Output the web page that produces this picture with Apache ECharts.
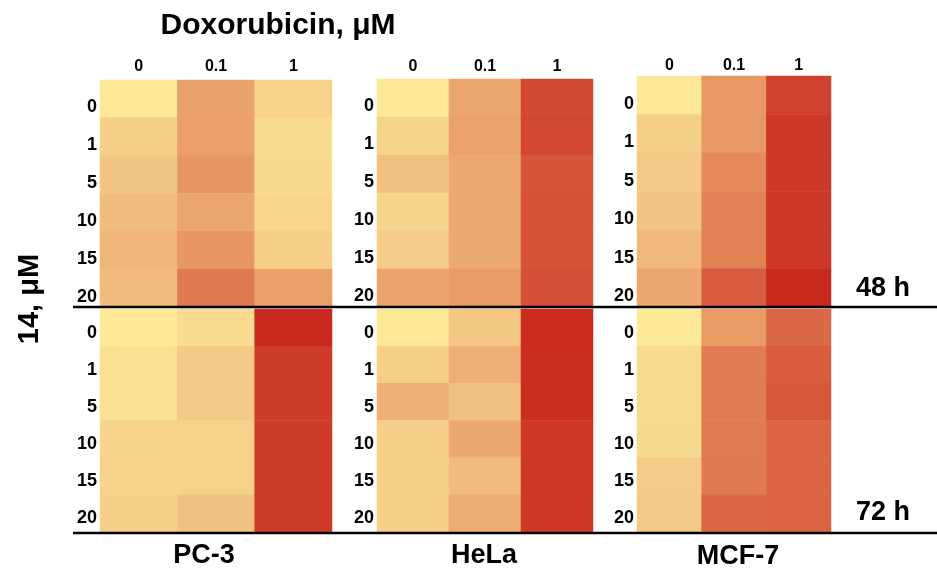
<!DOCTYPE html>
<html>
<head>
<meta charset="utf-8">
<script src="https://cdn.jsdelivr.net/npm/echarts@6/dist/echarts.min.js"></script>
<style>html,body{margin:0;padding:0;background:#fff}#c{width:937px;height:572px}</style>
</head>
<body>
<div id="c"></div>
<script>
var doxLabels = ['0', '0.1', '1'];
var cmpLabels = ['0', '1', '5', '10', '15', '20'];
var cellLines = ['PC-3', 'HeLa', 'MCF-7'];
var times = ['48 h', '72 h'];

// values per Doxorubicin column (0, 0.1, 1), rows = compound 14 conc (0..20)
var pc3_48 = [[2, 22, 27, 32, 36, 32], [48, 49, 55, 45, 54, 68], [19, 12, 13, 15, 22, 49]];
var hela_48 = [[2, 18, 30, 18, 23, 46], [45, 47, 43, 43, 43, 51], [87, 88, 83, 84, 84, 85]];
var mcf7_48 = [[2, 22, 25, 28, 34, 45], [53, 53, 61, 64, 64, 80], [90, 93, 93, 93, 93, 99]];
var pc3_72 = [[1, 8, 8, 18, 19, 21], [11, 24, 25, 20, 20, 30], [99, 92, 92, 92, 92, 92]];
var hela_72 = [[2, 22, 39, 21, 21, 21], [26, 40, 30, 44, 33, 42], [98, 97, 97, 94, 94, 93]];
var mcf7_72 = [[2, 12, 12, 13, 23, 25], [52, 67, 67, 67, 68, 76], [75, 80, 82, 77, 77, 77]];

var panels = [pc3_48, hela_48, mcf7_48, pc3_72, hela_72, mcf7_72];

var boxes = [
  {left: 100, top: 80, width: 232, height: 227, xm: 5, lh: 17},
  {left: 377, top: 79, width: 216, height: 228, xm: 4, lh: 17},
  {left: 637, top: 76, width: 194, height: 231, xm: 2, lh: 17},
  {left: 100, top: 309, width: 232, height: 223, xm: 4, lh: 10},
  {left: 377, top: 309, width: 216, height: 223, xm: 4, lh: 10},
  {left: 637, top: 309, width: 194, height: 223, xm: 4, lh: 10}
];

var font = 'Liberation Sans, Arial, sans-serif';
var grids = [], xAxes = [], yAxes = [], series = [];
panels.forEach(function (p, i) {
  var b = boxes[i];
  grids.push({left: b.left, top: b.top, width: b.width, height: b.height, containLabel: false});
  xAxes.push({
    type: 'category', gridIndex: i, data: doxLabels, position: 'top',
    axisLine: {show: false}, axisTick: {show: false}, splitLine: {show: false},
    axisLabel: {show: i < 3, margin: b.xm, fontFamily: font, fontWeight: 'bold', fontSize: 16, color: '#000'}
  });
  yAxes.push({
    type: 'category', gridIndex: i, data: cmpLabels, inverse: true,
    axisLine: {show: false}, axisTick: {show: false}, splitLine: {show: false},
    axisLabel: {margin: 3, fontFamily: font, fontWeight: 'bold', fontSize: 18, color: '#000', verticalAlign: 'top', lineHeight: b.lh}
  });
  var d = [];
  p.forEach(function (col, ci) {
    col.forEach(function (v, ri) { d.push([ci, ri, v]); });
  });
  series.push({type: 'heatmap', xAxisIndex: i, yAxisIndex: i, data: d, itemStyle: {borderWidth: 0}, emphasis: {disabled: true}});
});

function label(x, y, t, size, rot) {
  return {type: 'text', x: x, y: y, rotation: rot || 0, style: {text: t, fill: '#000', font: 'bold ' + size + 'px ' + font, textAlign: 'center', textVerticalAlign: 'middle'}};
}

var chart = echarts.init(document.getElementById('c'));
chart.setOption({
  animation: false,
  grid: grids,
  xAxis: xAxes,
  yAxis: yAxes,
  visualMap: {
    show: false, min: 0, max: 100, seriesIndex: [0, 1, 2, 3, 4, 5],
    inRange: {color: ['#FDEA97', '#F6D18A', '#EEAF74', '#E58D5A', '#D85D40', '#C8261A']}
  },
  series: series,
  graphic: [
    {type: 'line', shape: {x1: 73, y1: 307, x2: 937, y2: 307}, style: {stroke: '#000', lineWidth: 2.5}, z: 100},
    {type: 'line', shape: {x1: 73, y1: 533, x2: 937, y2: 533}, style: {stroke: '#000', lineWidth: 2.5}, z: 100},
    label(278, 26, 'Doxorubicin, μM', 30),
    label(30, 299, '14, μM', 29, Math.PI / 2),
    label(883, 289, times[0], 27),
    label(883, 513, times[1], 27),
    label(204, 556, cellLines[0], 27),
    label(484, 556, cellLines[1], 27),
    label(738, 557, cellLines[2], 27)
  ]
});
</script>
</body>
</html>
